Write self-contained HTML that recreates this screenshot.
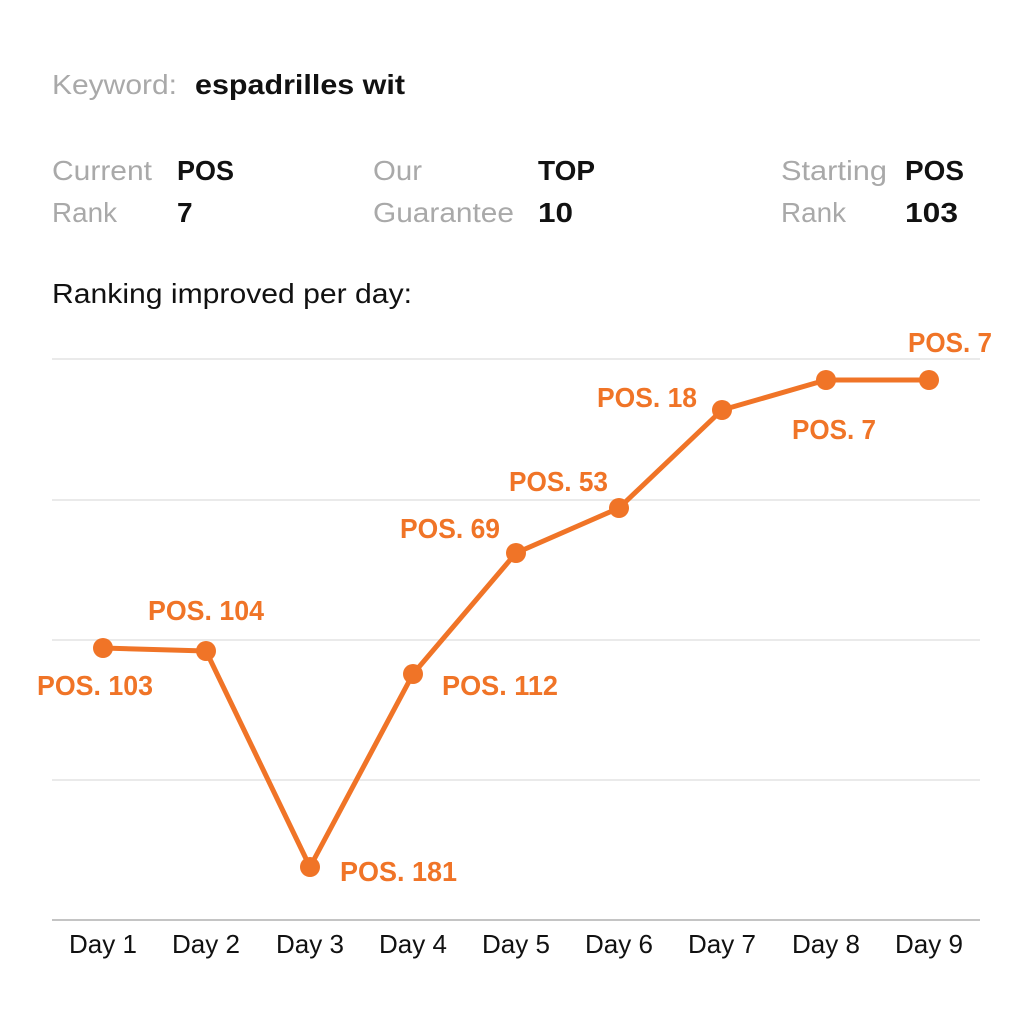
<!DOCTYPE html>
<html>
<head>
<meta charset="utf-8">
<style>
  html,body{margin:0;padding:0;background:#fff;}
  svg{display:block;}
  text{font-family:"Liberation Sans",sans-serif;}
  .g{fill:#a9a9a9;font-size:28px;}
  .b{fill:#111;font-size:28px;font-weight:bold;}
  .o{fill:#F07427;font-size:28px;font-weight:bold;}
  .d{fill:#111;font-size:26px;}
</style>
</head>
<body>
<svg width="1024" height="1024" viewBox="0 0 1024 1024" xmlns="http://www.w3.org/2000/svg">
  <rect width="1024" height="1024" fill="#fff"/>
  <!-- Header -->
  <text class="g" x="52" y="94" textLength="125" lengthAdjust="spacingAndGlyphs">Keyword:</text>
  <text class="b" x="195" y="94" textLength="210" lengthAdjust="spacingAndGlyphs">espadrilles wit</text>

  <text class="g" x="52" y="180" textLength="100" lengthAdjust="spacingAndGlyphs">Current</text>
  <text class="g" x="52" y="222" textLength="65" lengthAdjust="spacingAndGlyphs">Rank</text>
  <text class="b" x="177" y="180" textLength="57" lengthAdjust="spacingAndGlyphs">POS</text>
  <text class="b" x="177" y="222">7</text>

  <text class="g" x="373" y="180" textLength="49" lengthAdjust="spacingAndGlyphs">Our</text>
  <text class="g" x="373" y="222" textLength="141" lengthAdjust="spacingAndGlyphs">Guarantee</text>
  <text class="b" x="538" y="180" textLength="57" lengthAdjust="spacingAndGlyphs">TOP</text>
  <text class="b" x="538" y="222" textLength="35" lengthAdjust="spacingAndGlyphs">10</text>

  <text class="g" x="781" y="180" textLength="106" lengthAdjust="spacingAndGlyphs">Starting</text>
  <text class="g" x="781" y="222" textLength="65" lengthAdjust="spacingAndGlyphs">Rank</text>
  <text class="b" x="905" y="180" textLength="59" lengthAdjust="spacingAndGlyphs">POS</text>
  <text class="b" x="905" y="222" textLength="53" lengthAdjust="spacingAndGlyphs">103</text>

  <text x="52" y="303" fill="#111" font-size="28" textLength="360" lengthAdjust="spacingAndGlyphs">Ranking improved per day:</text>

  <!-- Grid -->
  <g stroke="#e4e4e4" stroke-width="1.5">
    <line x1="52" y1="359" x2="980" y2="359"/>
    <line x1="52" y1="500" x2="980" y2="500"/>
    <line x1="52" y1="640" x2="980" y2="640"/>
    <line x1="52" y1="780" x2="980" y2="780"/>
  </g>
  <line x1="52" y1="920" x2="980" y2="920" stroke="#c4c4c4" stroke-width="2"/>

  <!-- Series -->
  <polyline fill="none" stroke="#F07427" stroke-width="5" stroke-linejoin="round"
    points="103,648 206,651 310,867 413,674 516,553 619,508 722,410 826,380 929,380"/>
  <g fill="#F07427">
    <circle cx="103" cy="648" r="10"/>
    <circle cx="206" cy="651" r="10"/>
    <circle cx="310" cy="867" r="10"/>
    <circle cx="413" cy="674" r="10"/>
    <circle cx="516" cy="553" r="10"/>
    <circle cx="619" cy="508" r="10"/>
    <circle cx="722" cy="410" r="10"/>
    <circle cx="826" cy="380" r="10"/>
    <circle cx="929" cy="380" r="10"/>
  </g>

  <!-- Point labels -->
  <text class="o" x="37" y="695" textLength="116" lengthAdjust="spacingAndGlyphs">POS. 103</text>
  <text class="o" x="148" y="620" textLength="116" lengthAdjust="spacingAndGlyphs">POS. 104</text>
  <text class="o" x="340" y="881" textLength="117" lengthAdjust="spacingAndGlyphs">POS. 181</text>
  <text class="o" x="442" y="695" textLength="116" lengthAdjust="spacingAndGlyphs">POS. 112</text>
  <text class="o" x="400" y="538" textLength="100" lengthAdjust="spacingAndGlyphs">POS. 69</text>
  <text class="o" x="509" y="491" textLength="99" lengthAdjust="spacingAndGlyphs">POS. 53</text>
  <text class="o" x="597" y="407" textLength="100" lengthAdjust="spacingAndGlyphs">POS. 18</text>
  <text class="o" x="792" y="439" textLength="84" lengthAdjust="spacingAndGlyphs">POS. 7</text>
  <text class="o" x="908" y="352" textLength="84" lengthAdjust="spacingAndGlyphs">POS. 7</text>

  <!-- X axis labels -->
  <g text-anchor="middle">
    <text class="d" x="103" y="953">Day 1</text>
    <text class="d" x="206" y="953">Day 2</text>
    <text class="d" x="310" y="953">Day 3</text>
    <text class="d" x="413" y="953">Day 4</text>
    <text class="d" x="516" y="953">Day 5</text>
    <text class="d" x="619" y="953">Day 6</text>
    <text class="d" x="722" y="953">Day 7</text>
    <text class="d" x="826" y="953">Day 8</text>
    <text class="d" x="929" y="953">Day 9</text>
  </g>
</svg>
</body>
</html>
